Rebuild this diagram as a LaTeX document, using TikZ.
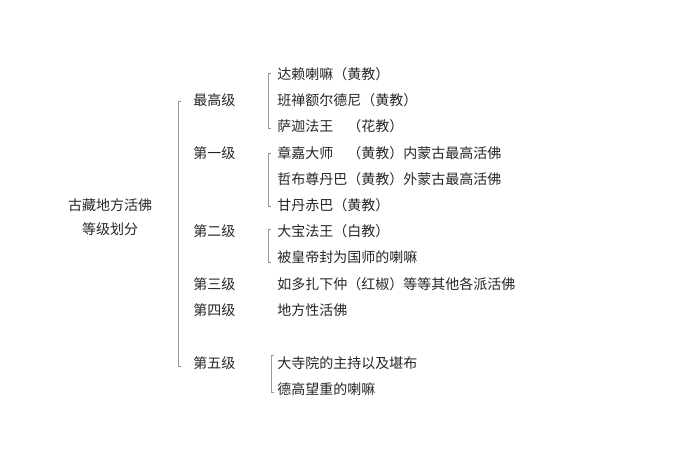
\documentclass[tikz,border=0pt]{standalone}
\usepackage{fontspec}
\newfontfamily\cjk{Noto Sans CJK SC}
\tikzset{
	item/.style = {anchor=west, inner sep=0pt, font=\cjk\fontsize{10.5}{12}\selectfont, text=black!85},
	brace/.style = {draw=gray!80, line width=0.6pt}
}
\newcommand{\bracket}[3]{\draw[brace] (#1+3,#2) -- (#1,#2) -- (#1,#3) -- (#1+3,#3);}

\begin{document}
\begin{tikzpicture}[x=0.75pt, y=-0.75pt]
						\useasboundingbox (0,0) rectangle (700,470);
						% ====== Root ========
						\node[item, anchor=center] (root1) at (110,205) {古藏地方活佛};
						\node[item, anchor=center] (root2) at (110,229) {等级划分};
						% ====== Levels ========
						\node[item] (L0) at (193,100) {最高级};
						\node[item] (L1) at (193,153) {第一级};
						\node[item] (L2) at (193,231) {第二级};
						\node[item] (L3) at (193,284) {第三级};
						\node[item] (L4) at (193,310) {第四级};
						\node[item] (L5) at (193,363) {第五级};
						% ====== Items ========
						\node[item] (a1) at (277,74) {达赖喇嘛（黄教）};
						\node[item] (a2) at (277,100) {班禅额尔德尼（黄教）};
						\node[item] (a3) at (277,126) {萨迦法王　（花教）};
						\node[item] (b1) at (277,153) {章嘉大师　（黄教）内蒙古最高活佛};
						\node[item] (b2) at (277,179) {哲布尊丹巴（黄教）外蒙古最高活佛};
						\node[item] (b3) at (277,205) {甘丹赤巴（黄教）};
						\node[item] (c1) at (277,231) {大宝法王（白教）};
						\node[item] (c2) at (277,257) {被皇帝封为国师的喇嘛};
						\node[item] (d1) at (277,284) {如多扎下仲（红椒）等等其他各派活佛};
						\node[item] (e1) at (277,310) {地方性活佛};
						\node[item] (f1) at (277,363) {大寺院的主持以及堪布};
						\node[item] (f2) at (277,389) {德高望重的喇嘛};
						% ====== Brackets ========
						\bracket{178}{101}{366}
						\bracket{268}{73}{128}
						\bracket{268}{153}{206}
						\bracket{268}{229}{262}
						\bracket{271}{355}{392}
					\end{tikzpicture}
\end{document}
